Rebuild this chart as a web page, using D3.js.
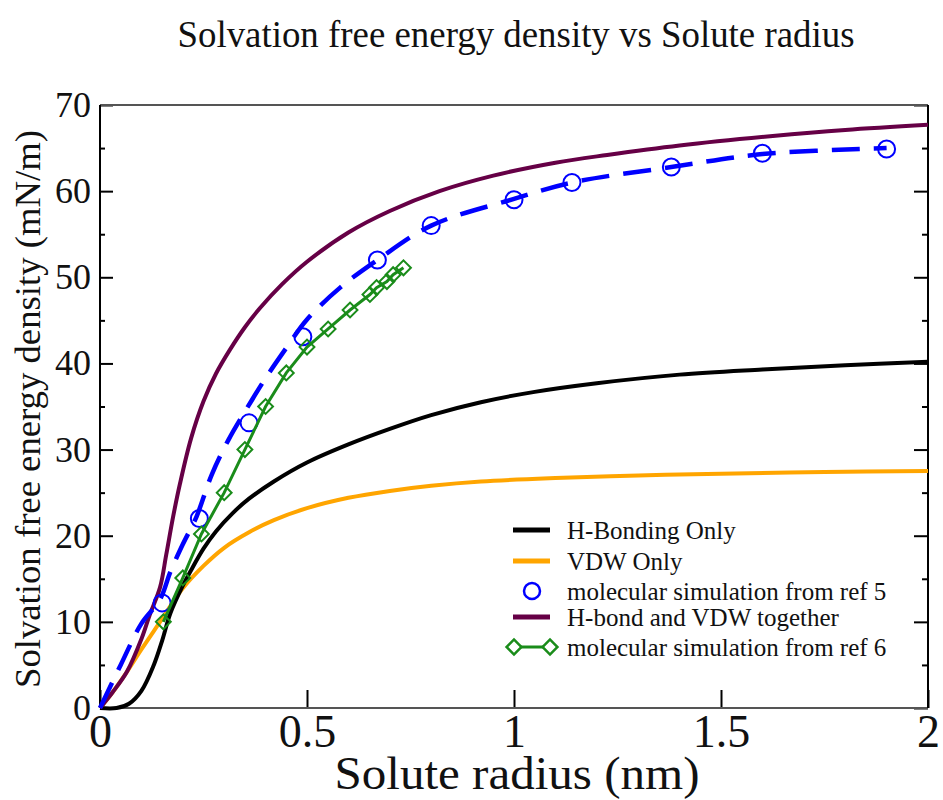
<!DOCTYPE html>
<html>
<head>
<meta charset="utf-8">
<script src="https://cdn.jsdelivr.net/npm/d3@7"></script>
<style>
  body { margin: 0; background: #fff; }
  svg { display: block; }
</style>
</head>
<body>
<svg width="943" height="800"></svg>
<script>
// curves
var hbondX = [0, 0.04, 0.07, 0.1, 0.13, 0.15, 0.17, 0.2, 0.22, 0.25, 0.28, 0.32, 0.36, 0.42, 0.5, 0.6, 0.7, 0.8, 0.92, 1.05, 1.2, 1.4, 1.6, 1.8, 2.0];
var hbondY = [0, 0, 0.5, 2, 5, 7.8, 11, 14.2, 16, 18.5, 20.5, 22.6, 24.3, 26.3, 28.5, 30.6, 32.4, 34.0, 35.5, 36.7, 37.7, 38.7, 39.3, 39.8, 40.2];

var vdwX = [0, 0.03, 0.065, 0.1, 0.145, 0.2, 0.25, 0.3, 0.36, 0.42, 0.5, 0.6, 0.7, 0.8, 0.92, 1.1, 1.3, 1.5, 1.75, 2.0];
var vdwY = [0, 1.8, 4.2, 6.8, 10, 13.9, 16.5, 18.6, 20.4, 21.8, 23.2, 24.4, 25.2, 25.8, 26.3, 26.7, 27, 27.2, 27.4, 27.5];

var bothX = [0, 0.03, 0.065, 0.1, 0.12, 0.145, 0.16, 0.177, 0.193, 0.22, 0.25, 0.28, 0.314, 0.35, 0.386, 0.44, 0.5, 0.6, 0.7, 0.82, 0.95, 1.1, 1.225, 1.4, 1.625, 1.8, 2.0];
var bothY = [0, 1.8, 4.2, 8, 10.8, 14, 17.8, 22.3, 26, 31.3, 35.6, 38.8, 41.6, 44.2, 46.4, 49.2, 51.8, 55.2, 57.7, 60, 61.8, 63.3, 64.2, 65.3, 66.4, 67.1, 67.7];

var fitX = [0, 0.05, 0.1, 0.145, 0.17, 0.2, 0.233, 0.27, 0.31, 0.355, 0.4, 0.45, 0.5, 0.58, 0.67, 0.8, 1.0, 1.14, 1.38, 1.6, 1.9];
var fitY = [0, 5, 9.8, 12.6, 15.8, 19, 22.2, 27.1, 31.1, 34.8, 38.3, 41.8, 45.1, 48.8, 52, 56, 59.1, 61, 62.8, 64.3, 65];

var ref5X = [0.15, 0.24, 0.36, 0.49, 0.67, 0.8, 1.0, 1.14, 1.38, 1.6, 1.9];
var ref5Y = [12.2, 22, 33.1, 43.1, 52, 56, 59, 61, 62.8, 64.4, 64.9];

var ref6X = [0.153, 0.2, 0.245, 0.3, 0.35, 0.4, 0.45, 0.5, 0.551, 0.604, 0.652, 0.668, 0.693, 0.708, 0.733];
var ref6Y = [10, 15.1, 20.2, 25, 30, 35, 38.9, 41.9, 44, 46.2, 48, 48.8, 49.5, 50.3, 51.1];

var xTicks = [0, 0.5, 1, 1.5, 2];
var yTicks = [0, 10, 20, 30, 40, 50, 60, 70];
var yMinor = [5, 15, 25, 35, 45, 55, 65];

var legendLabels = ["H-Bonding Only", "VDW Only", "molecular simulation from ref 5", "H-bond and VDW together", "molecular simulation from ref 6"];

var colBlack = "#000", colOrange = "#ffa500", colBlue = "#0000ff", colPurple = "#660046", colGreen = "#1a8c1a";
var serif = "Liberation Serif";

var svg = d3.select("svg").attr("font-family", serif);
var pLeft = 100, pRight = 928, pTop = 105, pBottom = 708;

var x = d3.scaleLinear().domain([0, 2]).range([pLeft, pRight]);
var y = d3.scaleLinear().domain([0, 70]).range([pBottom, pTop]);

function zip(xs, ys) { return xs.map(function(d, i) { return [d, ys[i]]; }); }

var smooth = d3.line()
  .x(function(d) { return x(d[0]); })
  .y(function(d) { return y(d[1]); })
  .curve(d3.curveCatmullRom.alpha(0.5));
var straight = d3.line()
  .x(function(d) { return x(d[0]); })
  .y(function(d) { return y(d[1]); });

// title
svg.append("text")
  .attr("x", 516).attr("y", 47)
  .attr("text-anchor", "middle")
  .attr("font-family", serif).attr("fill", "#111")
  .attr("font-size", 37)
  .attr("textLength", 677).attr("lengthAdjust", "spacingAndGlyphs")
  .text("Solvation free energy density vs Solute radius");

// axes
var gx = svg.append("g").attr("transform", "translate(0," + pBottom + ")")
  .call(d3.axisBottom(x).tickValues(xTicks).tickSize(-18).tickPadding(4)
    .tickFormat(function(d) { return String(d); }));
gx.select(".domain").remove();
gx.selectAll("text").attr("font-size", 46).attr("font-family", serif).attr("fill", "#111").attr("dy", "0.76em");

var gy = svg.append("g").attr("transform", "translate(" + pLeft + ",0)")
  .call(d3.axisLeft(y).tickValues(yTicks).tickSize(-13).tickPadding(9));
gy.select(".domain").remove();
gy.selectAll("text").attr("font-size", 36).attr("font-family", serif).attr("fill", "#111");

var gyMinor = svg.append("g").attr("transform", "translate(" + pLeft + ",0)")
  .call(d3.axisLeft(y).tickValues(yMinor).tickSize(-5).tickFormat(""));
gyMinor.select(".domain").remove();

var gr = svg.append("g").attr("transform", "translate(" + pRight + ",0)")
  .call(d3.axisRight(y).tickValues(yTicks).tickSize(-14).tickFormat(""));
gr.select(".domain").remove();
var grMinor = svg.append("g").attr("transform", "translate(" + pRight + ",0)")
  .call(d3.axisRight(y).tickValues(yMinor).tickSize(-6).tickFormat(""));
grMinor.select(".domain").remove();

svg.selectAll(".tick line").attr("stroke", "#000").attr("stroke-width", 2);

// frame
svg.append("line").attr("x1", pLeft).attr("x2", pRight).attr("y1", pTop).attr("y2", pTop).attr("stroke", "#555").attr("stroke-width", 2);
svg.append("line").attr("x1", pLeft).attr("x2", pRight).attr("y1", pBottom).attr("y2", pBottom).attr("stroke", "#555").attr("stroke-width", 2);
svg.append("line").attr("x1", pLeft).attr("x2", pLeft).attr("y1", pTop).attr("y2", pBottom).attr("stroke", "#000").attr("stroke-width", 2);
svg.append("line").attr("x1", pRight).attr("x2", pRight).attr("y1", pTop).attr("y2", pBottom).attr("stroke", "#000").attr("stroke-width", 2);

// axis labels
svg.append("text")
  .attr("x", 517).attr("y", 789)
  .attr("text-anchor", "middle")
  .attr("font-family", serif).attr("fill", "#111")
  .attr("font-size", 46)
  .attr("textLength", 365).attr("lengthAdjust", "spacingAndGlyphs")
  .text("Solute radius (nm)");

svg.append("text")
  .attr("transform", "translate(40,409) rotate(-90)")
  .attr("text-anchor", "middle")
  .attr("font-family", serif).attr("fill", "#111")
  .attr("font-size", 36)
  .attr("textLength", 558).attr("lengthAdjust", "spacingAndGlyphs")
  .text("Solvation free energy density (mN/m)");

// curves
var plot = svg.append("g");

plot.append("path").datum(zip(vdwX, vdwY))
  .attr("d", smooth).attr("fill", "none").attr("stroke", colOrange).attr("stroke-width", 4);
plot.append("path").datum(zip(hbondX, hbondY))
  .attr("d", smooth).attr("fill", "none").attr("stroke", colBlack).attr("stroke-width", 4);
plot.append("path").datum(zip(bothX, bothY))
  .attr("d", smooth).attr("fill", "none").attr("stroke", colPurple).attr("stroke-width", 4);
plot.append("path").datum(zip(fitX, fitY))
  .attr("d", smooth).attr("fill", "none").attr("stroke", colBlue).attr("stroke-width", 4.5)
  .attr("stroke-dasharray", "28,14");

plot.selectAll(".ref5").data(zip(ref5X, ref5Y)).enter().append("circle")
  .attr("class", "ref5")
  .attr("cx", function(d) { return x(d[0]); })
  .attr("cy", function(d) { return y(d[1]); })
  .attr("r", 8.5).attr("fill", "none").attr("stroke", colBlue).attr("stroke-width", 2);

plot.append("path").datum(zip(ref6X, ref6Y))
  .attr("d", straight).attr("fill", "none").attr("stroke", colGreen).attr("stroke-width", 3);

var diamond = d3.symbol().type(d3.symbolSquare).size(110);
plot.selectAll(".ref6").data(zip(ref6X, ref6Y)).enter().append("path")
  .attr("class", "ref6")
  .attr("d", diamond)
  .attr("transform", function(d) { return "translate(" + x(d[0]) + "," + y(d[1]) + ") rotate(45)"; })
  .attr("fill", "none").attr("stroke", colGreen).attr("stroke-width", 2);

// legend
var legY = [530, 561, 591, 617, 647];
var leg = svg.append("g");
[[colBlack, "line"], [colOrange, "line"], [colBlue, "circle"], [colPurple, "line"], [colGreen, "diamond"]].forEach(function(s, i) {
  var yy = legY[i];
  if (s[1] === "line") {
    leg.append("line").attr("x1", 513).attr("x2", 550).attr("y1", yy).attr("y2", yy)
      .attr("stroke", s[0]).attr("stroke-width", 5);
  } else if (s[1] === "circle") {
    leg.append("circle").attr("cx", 532).attr("cy", yy).attr("r", 8).attr("fill", "none")
      .attr("stroke", s[0]).attr("stroke-width", 2.5);
  } else {
    leg.append("line").attr("x1", 514).attr("x2", 550).attr("y1", yy).attr("y2", yy)
      .attr("stroke", s[0]).attr("stroke-width", 3);
    [514, 550].forEach(function(px) {
      leg.append("path").attr("d", diamond)
        .attr("transform", "translate(" + px + "," + yy + ") rotate(45)")
        .attr("fill", "#fff").attr("stroke", s[0]).attr("stroke-width", 2.5);
    });
  }
  leg.append("text").attr("x", 567).attr("y", yy).attr("dy", "0.35em")
    .attr("font-family", serif).attr("fill", "#111")
    .attr("font-size", 25).text(legendLabels[i]);
});
</script>
</body>
</html>
